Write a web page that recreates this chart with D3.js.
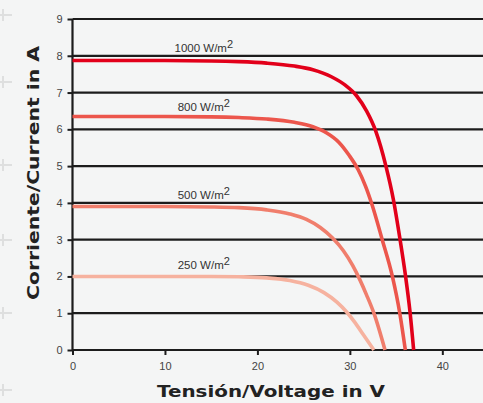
<!DOCTYPE html>
<html>
<head>
<meta charset="utf-8">
<title>I-V curves</title>
<script src="https://d3js.org/d3.v7.min.js"></script>
<style>
  body { margin: 0; background: #f4f5f5; }
  svg { display: block; background: #f4f5f5; }
  .tick-label { font-family: 'Liberation Sans', Arial, sans-serif; font-size: 11px; fill: #444; }
  .curve-label { font-family: 'Liberation Sans', Arial, sans-serif; font-size: 11.5px; fill: #333; }
  .title { font-family: 'DejaVu Sans', sans-serif; font-weight: bold; font-size: 16px; fill: #222; }
</style>
</head>
<body>
<script>
// irradiance levels
var levels = ['1000', '800', '500', '250'];
var colors = ['#e2001a', '#ec564c', '#f07e6c', '#f6b29f'];

// voltage (V) / current (A) points
var v1000 = [0, 10, 15, 18, 21, 24, 26, 28, 29.5, 30.7, 31.8, 32.8, 33.9, 34.7, 35.4, 36.0, 36.5, 36.9];
var i1000 = [7.87, 7.87, 7.86, 7.84, 7.8, 7.72, 7.62, 7.43, 7.2, 6.92, 6.5, 5.95, 5.0, 4.1, 3.05, 2.05, 1.05, 0];

var v800 = [0, 10, 15, 18, 21, 24, 26, 27.5, 28.8, 29.9, 30.9, 31.7, 32.4, 33.5, 34.6, 35.4, 36.0];
var i800 = [6.35, 6.35, 6.34, 6.32, 6.28, 6.19, 6.07, 5.9, 5.65, 5.3, 4.9, 4.45, 3.95, 3.0, 2.0, 1.0, 0];

var v500 = [0, 10, 15, 18, 21, 23.5, 25.3, 26.8, 28.1, 29.3, 30.3, 31.1, 31.8, 32.6, 33.8];
var i500 = [3.9, 3.9, 3.89, 3.87, 3.81, 3.7, 3.55, 3.33, 3.05, 2.7, 2.3, 1.9, 1.5, 1.0, 0];

var v250 = [0, 10, 15, 18, 21, 23.5, 25.5, 27.2, 28.6, 29.7, 30.6, 31.5, 32.6];
var i250 = [2.0, 2.0, 2.0, 1.99, 1.96, 1.89, 1.76, 1.56, 1.3, 1.02, 0.73, 0.4, 0];

var volts = [v1000, v800, v500, v250];
var amps = [i1000, i800, i500, i250];

// label anchor (V, A) for each curve
var labelV = [14.2, 14.2, 14.2, 14.2];
var labelA = [8.1, 6.5, 4.1, 2.2];

var xTicks = [0, 10, 20, 30, 40];
var yTicks = [0, 1, 2, 3, 4, 5, 6, 7, 8, 9];

var W = 483, H = 403;

var svg = d3.select('body').append('svg')
    .attr('width', W)
    .attr('height', H);

// faint marks on the left edge of the page
var marks = [15, 82, 165, 240, 313, 390];
marks.forEach(function(m){
    svg.append('line').attr('x1', 0).attr('x2', 12).attr('y1', m).attr('y2', m)
       .attr('stroke', '#dedfdf').attr('stroke-width', 2);
    svg.append('line').attr('x1', 3).attr('x2', 3).attr('y1', m - 6).attr('y2', m + 6)
       .attr('stroke', '#dedfdf').attr('stroke-width', 2);
});

var x = d3.scaleLinear().domain([0, 44.4]).range([72.5, 483]);
var y = d3.scaleLinear().domain([0, 9]).range([350, 19]);

// horizontal grid
svg.append('g')
   .selectAll('line')
   .data(yTicks.slice(1))
   .enter()
   .append('line')
   .attr('x1', x(0))
   .attr('x2', W)
   .attr('y1', function(d){ return y(d); })
   .attr('y2', function(d){ return y(d); })
   .attr('stroke', '#1c1c1c')
   .attr('stroke-width', 2.2);

// y axis
var yAxis = svg.append('g')
   .attr('transform', 'translate(' + x(0) + ',0)')
   .call(d3.axisLeft(y).tickValues(yTicks).tickSize(5).tickPadding(5).tickFormat(d3.format('d')));
yAxis.select('.domain').attr('stroke', '#1c1c1c').attr('stroke-width', 2.2)
     .attr('d', 'M0,' + y(0) + 'V' + y(9));
yAxis.selectAll('.tick line').attr('stroke', '#1c1c1c').attr('stroke-width', 2);
yAxis.selectAll('.tick text').attr('class', 'tick-label').attr('font-family', null).attr('font-size', null).attr('fill', null);

// x axis
var xAxis = svg.append('g')
   .attr('transform', 'translate(0,' + y(0) + ')')
   .call(d3.axisBottom(x).tickValues(xTicks).tickSize(5).tickPadding(7));
xAxis.select('.domain').attr('stroke', '#1c1c1c').attr('stroke-width', 2.2)
     .attr('d', 'M' + x(0) + ',0H' + W);
xAxis.selectAll('.tick line').attr('stroke', '#1c1c1c').attr('stroke-width', 2);
xAxis.selectAll('.tick text').attr('class', 'tick-label').attr('font-family', null).attr('font-size', null).attr('fill', null);

// curves
var series = levels.map(function(l, k){
    return { level: l, color: colors[k], pts: d3.zip(volts[k], amps[k]) };
});

var line = d3.line()
    .x(function(d){ return x(d[0]); })
    .y(function(d){ return y(d[1]); })
    .curve(d3.curveMonotoneX);

svg.append('g')
   .selectAll('path')
   .data(series.slice().reverse())
   .enter()
   .append('path')
   .attr('d', function(d){ return line(d.pts); })
   .attr('fill', 'none')
   .attr('stroke', function(d){ return d.color; })
   .attr('stroke-width', 3.6)
   .attr('stroke-linejoin', 'round');

// curve labels
var lab = svg.append('g')
   .selectAll('text')
   .data(series)
   .enter()
   .append('text')
   .attr('class', 'curve-label')
   .attr('x', function(d, k){ return x(labelV[k]); })
   .attr('y', function(d, k){ return y(labelA[k]); })
   .attr('text-anchor', 'middle');
lab.append('tspan').text(function(d){ return d.level + ' W/m'; });
lab.append('tspan').attr('dy', -4).attr('font-size', '11px').text('2');

// titles
svg.append('text')
   .attr('class', 'title')
   .attr('x', 271)
   .attr('y', 397)
   .attr('text-anchor', 'middle')
   .attr('textLength', 228)
   .attr('lengthAdjust', 'spacingAndGlyphs')
   .text('Tensión/Voltage in V');

svg.append('text')
   .attr('class', 'title')
   .attr('transform', 'translate(39,173) rotate(-90)')
   .attr('text-anchor', 'middle')
   .attr('textLength', 254)
   .attr('lengthAdjust', 'spacingAndGlyphs')
   .text('Corriente/Current in A');
</script>
</body>
</html>
